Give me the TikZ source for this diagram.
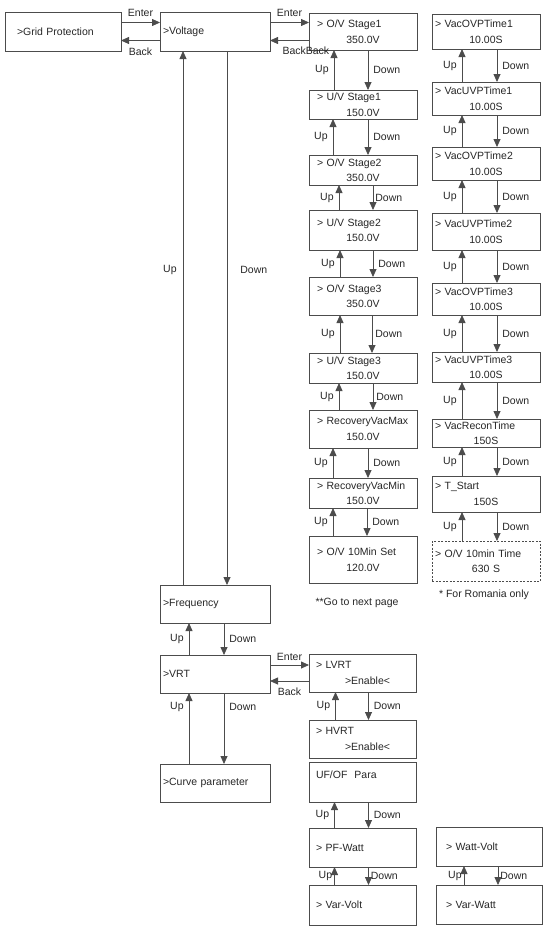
\documentclass[tikz,border=0pt]{standalone}
\usepackage{fontspec}
\setmainfont{Liberation Sans}
\usetikzlibrary{positioning, arrows.meta}

\newcommand{\twoline}[2]{\makebox[\linewidth][l]{#1}\par\makebox[\linewidth]{#2}}

\begin{document}
\begin{tikzpicture}[
  x=1pt, y=-1pt,
  menu/.style={rectangle, draw=black!70, line width=0.8pt, outer sep=0pt, align=left, text=black!85, font=\fontsize{10.5}{15.5}\selectfont, inner ysep=0pt},
  mainmenu/.style={menu, inner xsep=3pt, text width=104pt, minimum height=38pt, anchor=north west},
  voltitem/.style={menu, inner xsep=8pt, text width=92pt},
  timeitem/.style={menu, inner xsep=3pt, text width=102pt},
  vrtitem/.style={menu, inner xsep=7pt, text width=93pt, minimum height=39pt},
  wattitem/.style={menu, inner xsep=10pt, text width=86pt, minimum height=39pt},
  arrow/.style={-{Triangle[length=8pt,width=7pt]}, draw=black!70, line width=0.8pt},
  tag/.style={font=\fontsize{10.5}{12}\selectfont, text=black!85, inner sep=1pt}
]
\useasboundingbox (0,0) rectangle (545,929);

% Main menu
\node[mainmenu, inner xsep=12pt, text width=92pt, minimum height=39pt] (grid) at (5,12) {>Grid Protection};
\node[mainmenu, minimum height=39pt] (voltage) at (160,12) {>Voltage};
\node[mainmenu] (frequency) at (160,585) {>Frequency};
\node[mainmenu] (vrt) at (160,655) {>VRT};
\node[mainmenu] (curve) at (160,764) {>Curve parameter};

% Voltage settings
\node[voltitem, minimum height=37pt, anchor=north] (ov1) at (363,13) {\twoline{> O/V Stage1}{350.0V}};
\node[voltitem, minimum height=29pt, below=40pt of ov1] (uv1) {\twoline{> U/V Stage1}{150.0V}};
\node[voltitem, minimum height=30pt, below=36pt of uv1] (ov2) {\twoline{> O/V Stage2}{350.0V}};
\node[voltitem, minimum height=40pt, below=25pt of ov2] (uv2) {\twoline{> U/V Stage2}{150.0V}};
\node[voltitem, minimum height=38pt, below=27pt of uv2] (ov3) {\twoline{> O/V Stage3}{350.0V}};
\node[voltitem, minimum height=30pt, below=38pt of ov3] (uv3) {\twoline{> U/V Stage3}{150.0V}};
\node[voltitem, minimum height=38pt, below=27pt of uv3] (recmax) {\twoline{> RecoveryVacMax}{150.0V}};
\node[voltitem, minimum height=30pt, below=30pt of recmax] (recmin) {\twoline{> RecoveryVacMin}{150.0V}};
\node[voltitem, minimum height=47pt, below=28pt of recmin] (ov10) {\twoline{> O/V 10Min Set}{120.0V}};
\node[tag] (nextpage) at (357,603) {**Go to next page};

% Time settings
\node[timeitem, minimum height=35pt, anchor=north] (ovt1) at (486,14) {\twoline{> VacOVPTime1}{10.00S}};
\node[timeitem, minimum height=33pt, below=33pt of ovt1] (uvt1) {\twoline{> VacUVPTime1}{10.00S}};
\node[timeitem, minimum height=33pt, below=32pt of uvt1] (ovt2) {\twoline{> VacOVPTime2}{10.00S}};
\node[timeitem, minimum height=37pt, below=33pt of ovt2] (uvt2) {\twoline{> VacUVPTime2}{10.00S}};
\node[timeitem, minimum height=32pt, below=33pt of uvt2] (ovt3) {\twoline{> VacOVPTime3}{10.00S}};
\node[timeitem, minimum height=30pt, below=37pt of ovt3] (uvt3) {\twoline{> VacUVPTime3}{10.00S}};
\node[timeitem, minimum height=28pt, below=37pt of uvt3] (recon) {\twoline{> VacReconTime}{150S}};
\node[timeitem, minimum height=36pt, below=29pt of recon] (tstart) {\twoline{> T\_Start}{150S}};
\node[timeitem, minimum height=40pt, dashed, dash pattern=on 2pt off 1.5pt, below=29pt of tstart] (ovt10) {\twoline{> O/V 10min Time}{630 S}};
\node[tag] (romania) at (484,595) {* For Romania only};

% VRT settings
\node[vrtitem, minimum height=38pt, anchor=north] (lvrt) at (362.5,654) {\twoline{> LVRT}{\hspace{10pt}>Enable<}};
\node[vrtitem, minimum height=38pt, below=28pt of lvrt] (hvrt) {\twoline{> HVRT}{\hspace{10pt}>Enable<}};
\node[vrtitem, minimum height=40pt, text depth=14pt, below=4pt of hvrt] (ufof) {UF/OF~~Para};
\node[vrtitem, below=26pt of ufof] (pfwatt) {> PF-Watt};
\node[vrtitem, minimum height=40pt, below=18pt of pfwatt] (varvolt) {> Var-Volt};
\node[wattitem, anchor=north] (wattvolt) at (489,827) {> Watt-Volt};
\node[wattitem, below=19pt of wattvolt] (varwatt) {> Var-Watt};

% Enter / Back
\draw[arrow] ([yshift=9pt]grid.east) -- node[tag, above=4pt]{Enter} ([yshift=9pt]grid.east -| voltage.west);
\draw[arrow] ([yshift=-9pt]voltage.west) -- node[tag, below=6pt]{Back} ([yshift=-9pt]voltage.west -| grid.east);
\draw[arrow] ([yshift=9pt]voltage.east) -- node[tag, above=4pt]{Enter} ([yshift=9pt]voltage.east -| ov1.west);
\draw[arrow] ([yshift=-9pt]ov1.west) -- node[tag, below=5pt, pos=0.08]{BackBack} ([yshift=-9pt]ov1.west -| voltage.east);
\draw[arrow] ([yshift=9pt]vrt.east) -- node[tag, above=3pt]{Enter} ([yshift=9pt]vrt.east -| lvrt.west);
\draw[arrow] ([yshift=-7pt]vrt.east -| lvrt.west) -- node[tag, below=5pt]{Back} ([yshift=-7pt]vrt.east);

% Main menu Up / Down
\draw[arrow] ([xshift=-32pt]frequency.north) -- node[tag, left=5pt, pos=0.59]{Up} ([xshift=-32pt]voltage.south);
\draw[arrow] ([xshift=12pt]voltage.south) -- node[tag, right=12pt, pos=0.41]{Down} ([xshift=12pt]frequency.north);
\draw[arrow] ([xshift=-26pt]vrt.north) -- node[tag, left=4pt]{Up} ([xshift=-26pt]frequency.south);
\draw[arrow] ([xshift=9pt]frequency.south) -- node[tag, right=4pt]{Down} ([xshift=9pt]vrt.north);
\draw[arrow] ([xshift=-26pt]curve.north) -- node[tag, left=4pt, pos=0.8]{Up} ([xshift=-26pt]vrt.south);
\draw[arrow] ([xshift=9pt]vrt.south) -- node[tag, right=4pt, pos=0.2]{Down} ([xshift=9pt]curve.north);

% Voltage Up / Down
\draw[arrow] ([xshift=-29pt]uv1.north) -- node[tag, left=4pt]{Up} ([xshift=-29pt]ov1.south);
\draw[arrow] ([xshift=5pt]ov1.south) -- node[tag, right=4pt]{Down} ([xshift=5pt]uv1.north);
\draw[arrow] ([xshift=-30pt]ov2.north) -- node[tag, left=4pt]{Up} ([xshift=-30pt]uv1.south);
\draw[arrow] ([xshift=5pt]uv1.south) -- node[tag, right=4pt]{Down} ([xshift=5pt]ov2.north);
\draw[arrow] ([xshift=-24pt]uv2.north) -- node[tag, left=4pt]{Up} ([xshift=-24pt]ov2.south);
\draw[arrow] ([xshift=10pt]ov2.south) -- node[tag, right=1pt]{Down} ([xshift=10pt]uv2.north);
\draw[arrow] ([xshift=-23pt]ov3.north) -- node[tag, left=4pt]{Up} ([xshift=-23pt]uv2.south);
\draw[arrow] ([xshift=10pt]uv2.south) -- node[tag, right=4pt]{Down} ([xshift=10pt]ov3.north);
\draw[arrow] ([xshift=-23pt]uv3.north) -- node[tag, left=4pt]{Up} ([xshift=-23pt]ov3.south);
\draw[arrow] ([xshift=9pt]ov3.south) -- node[tag, right=2pt]{Down} ([xshift=9pt]uv3.north);
\draw[arrow] ([xshift=-24pt]recmax.north) -- node[tag, left=4pt]{Up} ([xshift=-24pt]uv3.south);
\draw[arrow] ([xshift=10pt]uv3.south) -- node[tag, right=2pt]{Down} ([xshift=10pt]recmax.north);
\draw[arrow] ([xshift=-30pt]recmin.north) -- node[tag, left=4pt]{Up} ([xshift=-30pt]recmax.south);
\draw[arrow] ([xshift=5pt]recmax.south) -- node[tag, right=4pt]{Down} ([xshift=5pt]recmin.north);
\draw[arrow] ([xshift=-30pt]ov10.north) -- node[tag, left=4pt]{Up} ([xshift=-30pt]recmin.south);
\draw[arrow] ([xshift=4pt]recmin.south) -- node[tag, right=4pt]{Down} ([xshift=4pt]ov10.north);

% Time Up / Down
\draw[arrow] ([xshift=-24pt]uvt1.north) -- node[tag, left=4pt]{Up} ([xshift=-24pt]ovt1.south);
\draw[arrow] ([xshift=11pt]ovt1.south) -- node[tag, right=4pt]{Down} ([xshift=11pt]uvt1.north);
\draw[arrow] ([xshift=-24pt]ovt2.north) -- node[tag, left=4pt]{Up} ([xshift=-24pt]uvt1.south);
\draw[arrow] ([xshift=11pt]uvt1.south) -- node[tag, right=4pt]{Down} ([xshift=11pt]ovt2.north);
\draw[arrow] ([xshift=-24pt]uvt2.north) -- node[tag, left=4pt]{Up} ([xshift=-24pt]ovt2.south);
\draw[arrow] ([xshift=11pt]ovt2.south) -- node[tag, right=4pt]{Down} ([xshift=11pt]uvt2.north);
\draw[arrow] ([xshift=-24pt]ovt3.north) -- node[tag, left=4pt]{Up} ([xshift=-24pt]uvt2.south);
\draw[arrow] ([xshift=11pt]uvt2.south) -- node[tag, right=4pt]{Down} ([xshift=11pt]ovt3.north);
\draw[arrow] ([xshift=-24pt]uvt3.north) -- node[tag, left=4pt]{Up} ([xshift=-24pt]ovt3.south);
\draw[arrow] ([xshift=11pt]ovt3.south) -- node[tag, right=4pt]{Down} ([xshift=11pt]uvt3.north);
\draw[arrow] ([xshift=-24pt]recon.north) -- node[tag, left=4pt]{Up} ([xshift=-24pt]uvt3.south);
\draw[arrow] ([xshift=11pt]uvt3.south) -- node[tag, right=4pt]{Down} ([xshift=11pt]recon.north);
\draw[arrow] ([xshift=-24pt]tstart.north) -- node[tag, left=4pt]{Up} ([xshift=-24pt]recon.south);
\draw[arrow] ([xshift=11pt]recon.south) -- node[tag, right=4pt]{Down} ([xshift=11pt]tstart.north);
\draw[arrow] ([xshift=-24pt]ovt10.north) -- node[tag, left=4pt]{Up} ([xshift=-24pt]tstart.south);
\draw[arrow] ([xshift=11pt]tstart.south) -- node[tag, right=4pt]{Down} ([xshift=11pt]ovt10.north);

% VRT Up / Down
\draw[arrow] ([xshift=-27pt]hvrt.north) -- node[tag, left=4pt]{Up} ([xshift=-27pt]lvrt.south);
\draw[arrow] ([xshift=6pt]lvrt.south) -- node[tag, right=4pt]{Down} ([xshift=6pt]hvrt.north);
\draw[arrow] ([xshift=-28pt]pfwatt.north) -- node[tag, left=4pt]{Up} ([xshift=-28pt]ufof.south);
\draw[arrow] ([xshift=6pt]ufof.south) -- node[tag, right=4pt]{Down} ([xshift=6pt]pfwatt.north);
\draw[arrow] ([xshift=-28pt]varvolt.north) -- node[tag, left=1pt]{Up} ([xshift=-28pt]pfwatt.south);
\draw[arrow] ([xshift=6pt]pfwatt.south) -- node[tag, right=1pt]{Down} ([xshift=6pt]varvolt.north);
\draw[arrow] ([xshift=-25pt]varwatt.north) -- node[tag, left=1pt]{Up} ([xshift=-25pt]wattvolt.south);
\draw[arrow] ([xshift=9pt]wattvolt.south) -- node[tag, right=1pt]{Down} ([xshift=9pt]varwatt.north);

\end{tikzpicture}
\end{document}
